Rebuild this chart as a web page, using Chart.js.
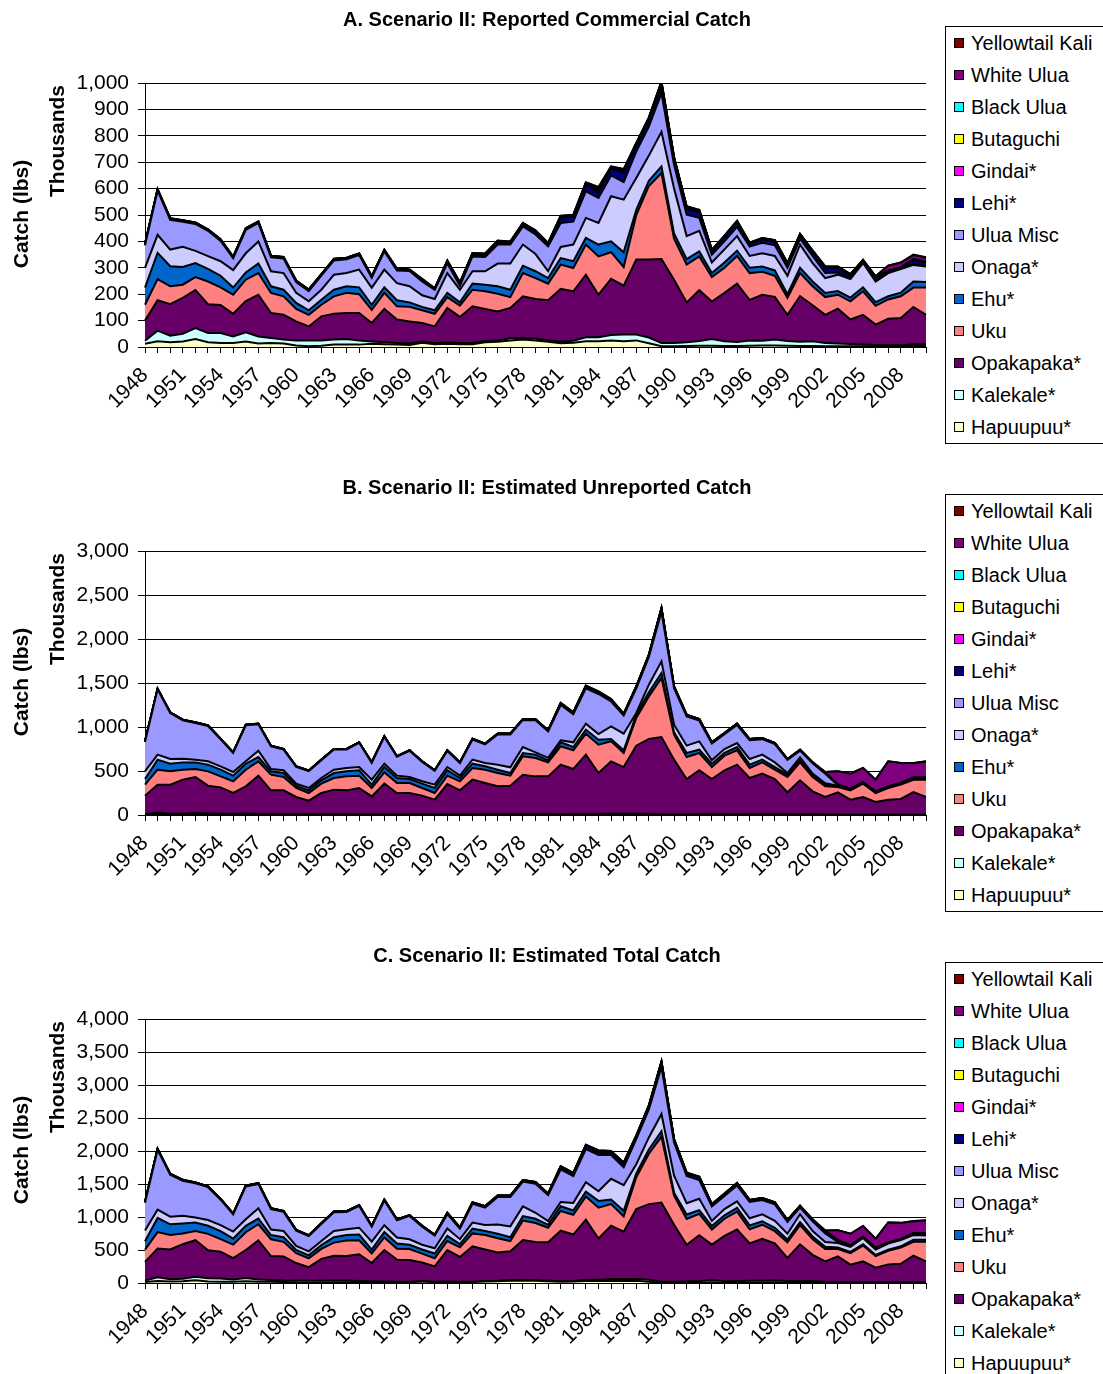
<!DOCTYPE html>
<html><head><meta charset="utf-8">
<script src="https://cdn.jsdelivr.net/npm/chart.js@4.4.1/dist/chart.umd.min.js"></script>
<style>
html,body{margin:0;padding:0;background:#fff;overflow:hidden;width:1103px;height:1374px;}
.panel{position:absolute;left:0;width:1103px;height:468px;overflow:visible;}
.panel canvas{position:absolute;left:0;top:0;}
.title{position:absolute;left:247px;width:600px;top:8px;text-align:center;font:bold 20px 'Liberation Sans',Arial,sans-serif;line-height:22px;color:#000;}
.ytitle{position:absolute;width:200px;height:22px;line-height:22px;text-align:center;font:bold 21px 'Liberation Sans',Arial,sans-serif;transform:rotate(-90deg);color:#000;}
.legend{position:absolute;left:945px;top:26px;width:170px;border:1px solid #000;background:#fff;}
.item{height:32px;display:flex;align-items:center;font:20px 'Liberation Sans',Arial,sans-serif;color:#000;white-space:nowrap;}
.sw{width:8px;height:8px;border:1px solid #000;margin-left:8px;margin-right:7px;flex:none;}
</style></head>
<body>
<div class="panel" style="top:0px"><canvas id="cA" width="940" height="468"></canvas>
<div class="title">A. Scenario II: Reported Commercial Catch</div>
<div class="ytitle" style="left:-80px;top:203px">Catch (lbs)</div>
<div class="ytitle" style="left:-44px;top:130px">Thousands</div>
<div class="legend" id="legA"></div></div>
<div class="panel" style="top:468px"><canvas id="cB" width="940" height="468"></canvas>
<div class="title">B. Scenario II: Estimated Unreported Catch</div>
<div class="ytitle" style="left:-80px;top:203px">Catch (lbs)</div>
<div class="ytitle" style="left:-44px;top:130px">Thousands</div>
<div class="legend" id="legB"></div></div>
<div class="panel" style="top:936px"><canvas id="cC" width="940" height="468"></canvas>
<div class="title">C. Scenario II: Estimated Total Catch</div>
<div class="ytitle" style="left:-80px;top:203px">Catch (lbs)</div>
<div class="ytitle" style="left:-44px;top:130px">Thousands</div>
<div class="legend" id="legC"></div></div>
<script>
// ---------- categories ----------
const years = [1948,1949,1950,1951,1952,1953,1954,1955,1956,1957,1958,1959,1960,1961,1962,1963,1964,1965,1966,1967,1968,1969,1970,1971,1972,1973,1974,1975,1976,1977,1978,1979,1980,1981,1982,1983,1984,1985,1986,1987,1988,1989,1990,1991,1992,1993,1994,1995,1996,1997,1998,1999,2000,2001,2002,2003,2004,2005,2006,2007,2008,2009,2010];
const shownYears = [1948,1951,1954,1957,1960,1963,1966,1969,1972,1975,1978,1981,1984,1987,1990,1993,1996,1999,2002,2005,2008];
// stacking order: bottom first
const seriesNames = ['Hapuupuu*','Kalekale*','Opakapaka*','Uku','Ehu*','Onaga*','Ulua Misc','Lehi*','Gindai*','Butaguchi','Black Ulua','White Ulua','Yellowtail Kali'];
const seriesColors = ['#FFFFCC','#CCFFFF','#660066','#FF8080','#0066CC','#CCCCFF','#9999FF','#000080','#FF00FF','#FFFF00','#00FFFF','#800080','#800000'];

// ---------- A. Reported commercial catch (thousand lbs) ----------
const A_hapuupuu = [12,22,18,21,30,18,15,15,21,13, 15,13,6,3,5,9,9,9,12,10, 9,8,16,10,12,10,10,18,20,25, 28,25,20,14,16,22,22,25,22,25, 14,3,3,4,5,5,4,4,5,6, 6,5,4,4,3,3,3,3,3,3, 3,4,4];
const A_kalekale = [12,40,25,29,42,35,38,25,35,27, 19,15,19,22,20,19,21,16,9,8, 6,5,5,5,5,5,5,5,5,8, 6,6,6,6,8,15,15,20,25,22, 22,12,12,14,18,25,18,15,20,18, 22,18,16,18,12,10,8,6,5,4, 4,6,6];
const A_opakapaka = [76,115,119,136,144,109,106,86,118,158, 95,94,72,53,91,98,99,104,70,126, 89,84,70,63,131,99,139,121,110,115, 158,151,151,200,187,237,161,213,185,284, 295,318,240,151,192,142,183,221,153,174, 162,99,173,136,107,132,93,113,77,100, 103,142,112];
const A_uku = [60,80,68,50,49,86,67,72,81,82, 76,70,47,44,44,66,76,71,50,61, 50,55,48,48,41,43,63,67,67,41, 88,79,63,92,88,114,145,101,71,169, 279,326,155,143,128,93,95,105,102,87, 80,64,87,72,67,53,69,89,71,73, 82,73,103];
const A_ehu = [65,100,76,67,53,48,44,27,27,36, 25,25,23,17,19,25,25,26,19,21, 23,17,13,13,16,12,23,25,28,28, 28,26,21,25,26,25,45,41,56,20, 20,25,20,21,19,15,20,20,20,20, 20,14,20,18,16,14,14,15,14,12, 14,23,21];
const A_onaga = [75,68,63,77,46,48,55,66,73,84, 57,63,38,34,38,57,50,67,64,67, 65,61,44,43,75,48,47,51,86,99, 80,65,26,42,63,76,82,171,199,120, 95,131,170,87,78,40,50,55,45,50, 55,70,88,70,56,62,70,92,78,88, 89,63,59];
const A_uluaMisc = [85,167,113,94,102,96,77,45,89,70, 53,55,41,39,53,54,52,55,38,69, 48,58,52,35,36,15,56,54,72,72, 69,74,94,91,87,101,95,79,67,100, 110,147,90,81,49,30,30,35,35,40, 40,30,22,27,19,8,3,2,2,2, 2,2,2];
const A_lehi = [3,3,3,3,3,3,3,3,3,3, 3,3,3,3,3,3,3,3,3,3, 3,3,5,2,6,7,7,7,9,6, 7,10,7,20,18,25,20,25,35,22, 22,30,20,22,22,12,15,16,10,12, 14,12,12,14,18,16,10,5,12,4, 3,16,12];
const A_gindai = [1,1,1,1,1,1,1,1,1,1, 1,1,1,1,1,1,1,1,1,1, 1,1,2,1,2,2,2,2,2,2, 2,2,2,3,3,4,8,4,6,5, 4,6,4,4,4,3,3,3,2,3, 3,3,3,3,3,3,2,2,2,1, 1,2,2];
const A_butaguchi = [1,1,1,1,1,1,1,1,1,1, 1,1,1,1,1,1,1,1,1,1, 1,1,1,1,2,2,2,2,2,2, 2,2,2,2,2,2,3,3,4,3, 6,4,3,3,3,2,2,2,2,2, 2,2,2,2,2,2,2,1,2,1, 1,2,2];
const A_blackUlua = [0,0,0,0,0,0,0,0,0,0, 0,0,0,0,0,0,0,0,0,0, 0,0,0,0,0,0,0,0,0,0, 0,0,0,0,0,0,0,0,0,0, 0,0,0,0,0,0,0,0,0,0, 0,0,0,0,0,0,0,0,0,0, 0,0,0];
const A_whiteUlua = [1,1,1,1,1,1,1,1,1,1, 1,1,1,1,1,1,1,1,1,1, 1,1,1,1,1,1,1,1,1,1, 1,1,1,1,2,2,8,1,3,2, 2,3,2,2,1,1,1,1,1,1, 1,1,1,1,2,2,2,2,2,20, 18,15,15];
const A_yellowtailKali = [0,0,0,0,0,0,0,0,0,0, 0,0,0,0,0,0,0,0,0,0, 0,0,1,0,1,1,1,1,1,1, 1,1,1,1,1,1,2,1,1,1, 1,1,1,1,1,0,1,1,0,0, 0,0,0,0,0,0,0,0,0,0, 0,2,2];

// ---------- B. Estimated unreported catch ----------
const B_hapuupuu = [5,8,6,6,10,6,5,5,7,5, 5,4,2,1,2,3,3,3,4,3, 3,3,5,3,4,3,3,6,6,8, 9,8,6,4,5,7,7,8,7,8, 5,1,1,1,2,2,2,2,2,3, 3,2,2,2,1,1,1,1,1,1, 1,1,1];
const B_kalekale = [7,17,9,9,12,12,10,7,11,7, 5,4,6,7,6,5,5,4,2,2, 2,2,2,2,2,2,2,2,2,3, 2,2,2,2,3,5,5,6,8,7, 7,4,4,5,6,8,6,5,7,6, 7,6,5,6,4,3,3,2,2,2, 2,2,2];
const B_opakapaka = [208,320,330,387,410,315,299,238,308,435, 270,272,197,155,242,280,272,300,206,351, 245,245,213,169,346,275,397,356,318,322, 447,429,431,566,515,674,465,596,530,773, 852,881,624,403,500,399,500,565,411,461, 399,250,387,261,200,254,170,202,145,171, 179,258,202];
const B_uku = [125,170,151,113,91,163,125,133,189,163, 178,152,102,87,106,132,159,140,95,129, 114,114,87,76,95,103,132,151,151,114, 209,209,159,208,212,238,322,227,160,314, 484,671,284,250,197,136,166,163,114,128, 106,174,204,163,121,60,106,151,102,133, 163,139,195];
const B_ehu = [64,114,87,83,75,76,76,64,68,49, 38,45,26,30,38,57,57,61,38,60, 56,45,49,57,61,37,49,38,38,30, 38,38,23,46,38,46,57,27,30,38, 46,57,26,46,37,38,31,38,38,31, 30,26,23,26,19,7,5,4,5,5, 5,8,8];
const B_onaga = [87,57,53,42,31,38,38,42,27,72, 27,31,23,27,26,38,38,37,57,38, 27,23,27,38,37,27,46,38,57,65, 68,26,29,22,53,68,64,144,189,19, 87,132,87,83,95,38,45,45,64,57, 53,19,34,12,15,7,5,5,5,5, 6,8,8];
const B_uluaMisc = [334,742,524,436,417,402,307,216,409,300, 258,235,191,191,203,229,210,275,190,305, 214,297,221,157,182,143,229,211,342,372, 307,366,300,402,319,402,455,282,206,281, 314,564,414,332,235,191,168,204,214,176, 208,149,77,118,110,8,2,2,2,2, 2,2,2];
const B_lehi = [4,4,4,4,4,4,4,4,4,4, 4,4,4,4,4,4,4,4,4,4, 4,4,4,4,6,6,6,6,8,8, 8,8,8,18,17,24,15,15,17,17, 21,35,17,15,14,10,10,12,10,9, 8,6,6,6,10,4,3,3,3,3, 3,5,5];
const B_gindai = [1,1,1,1,1,1,1,1,1,1, 1,1,1,1,1,1,1,1,1,1, 1,1,1,1,1,1,1,1,1,1, 1,1,1,2,2,3,4,2,2,2, 3,3,2,2,2,2,2,2,2,2, 2,2,2,2,2,1,1,1,1,1, 1,1,1];
const B_butaguchi = [1,1,1,1,1,1,1,1,1,1, 1,1,1,1,1,1,1,1,1,1, 1,1,1,1,1,1,1,1,1,1, 1,1,1,1,1,1,1,1,1,1, 1,2,1,1,1,1,1,1,1,1, 1,1,1,1,1,1,1,1,1,1, 1,1,1];
const B_blackUlua = [0,0,0,0,0,0,0,0,0,0, 0,0,0,0,0,0,0,0,0,0, 0,0,0,0,0,0,0,0,0,0, 0,0,0,0,0,0,0,0,0,0, 0,0,0,0,0,0,0,0,0,0, 0,0,0,0,0,0,0,0,0,0, 0,0,0];
const B_whiteUlua = [1,1,1,1,1,1,1,1,1,1, 1,1,1,1,1,1,1,1,1,1, 1,1,1,1,1,1,1,1,1,1, 1,1,1,1,1,1,9,9,1,1, 1,1,1,1,1,1,1,1,1,1, 1,1,1,1,6,150,173,162,135,286, 228,164,183];
const B_yellowtailKali = [0,0,0,0,0,0,0,0,0,0, 0,0,0,0,0,0,0,0,0,0, 0,0,0,0,0,0,0,0,0,0, 0,0,0,1,1,1,1,1,1,1, 1,1,1,1,1,0,0,0,0,0, 0,0,0,0,0,0,0,0,0,0, 0,2,2];

// ---------- C. Estimated total catch ----------
const C_hapuupuu = [17,30,24,27,40,24,20,20,28,18, 20,17,8,4,7,12,12,12,16,13, 12,11,21,13,16,13,13,24,26,33, 37,33,26,18,21,29,29,33,29,33, 19,4,4,5,7,7,6,6,7,9, 9,7,6,6,4,4,4,4,4,4, 4,5,5];
const C_kalekale = [19,57,34,38,54,47,48,32,46,34, 24,19,25,29,26,24,26,20,11,10, 8,7,7,7,7,7,7,7,7,11, 8,8,8,8,11,20,20,26,33,29, 29,16,16,19,24,33,24,20,27,24, 29,24,21,24,16,13,11,8,7,6, 6,8,8];
const C_opakapaka = [284,435,449,523,554,424,405,324,426,593, 365,366,269,208,333,378,371,404,276,477, 334,329,283,232,477,374,536,477,428,437, 605,580,582,766,702,911,626,809,715,1057, 1147,1199,864,554,692,541,683,786,564,635, 561,349,560,397,307,386,263,315,222,271, 282,400,314];
const C_uku = [185,250,219,163,140,249,192,205,270,245, 254,222,149,131,150,198,235,211,145,190, 164,169,135,124,136,146,195,218,218,155, 297,288,222,300,300,352,467,328,231,483, 763,997,439,393,325,229,261,268,216,215, 186,238,291,235,188,113,175,240,173,206, 245,212,298];
const C_ehu = [129,214,163,150,128,124,120,91,95,85, 63,70,49,47,57,82,82,87,57,81, 79,62,62,70,77,49,72,63,66,58, 66,64,44,71,64,71,102,68,86,58, 66,82,46,67,56,53,51,58,58,51, 50,40,43,44,35,21,19,19,19,17, 19,31,29];
const C_onaga = [162,125,116,119,77,86,93,108,100,156, 84,94,61,61,64,95,88,104,121,105, 92,84,71,81,112,75,93,89,143,164, 148,91,55,64,116,144,146,315,388,139, 182,263,257,170,173,78,95,100,109,107, 108,89,122,82,71,69,75,97,83,93, 95,71,67];
const C_uluaMisc = [419,909,637,530,519,498,384,261,498,370, 311,290,232,230,256,283,262,330,228,374, 262,355,273,192,218,158,285,265,414,444, 376,440,394,493,406,503,550,361,273,381, 424,711,504,413,284,221,198,239,249,216, 248,179,99,145,129,16,5,4,4,4, 4,4,4];
const C_lehi = [7,7,7,7,7,7,7,7,7,7, 7,7,7,7,7,7,7,7,7,7, 7,7,9,6,12,13,13,13,17,14, 15,18,15,38,35,49,35,40,52,39, 43,65,37,37,36,22,25,28,20,21, 22,18,18,20,28,20,13,8,15,7, 6,21,17];
const C_gindai = [2,2,2,2,2,2,2,2,2,2, 2,2,2,2,2,2,2,2,2,2, 2,2,3,2,3,3,3,3,3,3, 3,3,3,5,5,7,12,6,8,7, 7,9,6,6,6,5,5,5,4,5, 5,5,5,5,5,4,3,3,3,2, 2,3,3];
const C_butaguchi = [2,2,2,2,2,2,2,2,2,2, 2,2,2,2,2,2,2,2,2,2, 2,2,2,2,3,3,3,3,3,3, 3,3,3,3,3,3,4,4,5,4, 7,6,4,4,4,3,3,3,3,3, 3,3,3,3,3,3,3,2,3,2, 2,3,3];
const C_blackUlua = [0,0,0,0,0,0,0,0,0,0, 0,0,0,0,0,0,0,0,0,0, 0,0,0,0,0,0,0,0,0,0, 0,0,0,0,0,0,0,0,0,0, 0,0,0,0,0,0,0,0,0,0, 0,0,0,0,0,0,0,0,0,0, 0,0,0];
const C_whiteUlua = [2,2,2,2,2,2,2,2,2,2, 2,2,2,2,2,2,2,2,2,2, 2,2,2,2,2,2,2,2,2,2, 2,2,2,2,3,3,17,10,4,3, 3,4,3,3,2,2,2,2,2,2, 2,2,2,2,8,152,175,164,137,306, 246,179,198];
const C_yellowtailKali = [0,0,0,0,0,0,0,0,0,0, 0,0,0,0,0,0,0,0,0,0, 0,0,1,0,1,1,1,1,1,1, 1,1,1,2,2,2,3,2,2,2, 2,2,2,2,2,0,1,1,0,0, 0,0,0,0,0,0,0,0,0,0, 0,4,4];

const FONT = "'Liberation Sans', Arial, sans-serif";
Chart.defaults.font.family = FONT;
Chart.defaults.color = '#000';

function makeChart(id, series, ymax, step) {
  const datasets = series.map((d, i) => ({
    label: seriesNames[i],
    data: d,
    backgroundColor: seriesColors[i],
    borderColor: '#000',
    borderWidth: 2,
    fill: i === 0 ? 'origin' : '-1',
    pointRadius: 0,
    tension: 0
  }));
  return new Chart(document.getElementById(id), {
    type: 'line',
    data: { labels: years.map(String), datasets },
    options: {
      responsive: false, animation: false,
      layout: { padding: { top: 83, right: 14, left: 0, bottom: 0 } },
      plugins: { legend: { display: false }, tooltip: { enabled: false }, title: { display: false } },
      scales: {
        x: {
          type: 'category', offset: false,
          grid: { display: true, drawOnChartArea: false, drawTicks: true, tickLength: 6, color: '#000', offset: false },
          border: { display: true, color: '#000', width: 1 },
          ticks: {
            autoSkip: false, maxRotation: 45, minRotation: 45, padding: 10, color: '#000', font: { size: 21 },
            callback: function (v) { const l = this.getLabelForValue(v); return shownYears.includes(+l) ? l : ''; }
          },
          afterFit: s => { s.height = 121; s.paddingLeft = 0; s.paddingRight = 0; }
        },
        y: {
          stacked: true, min: 0, max: ymax,
          ticks: { stepSize: step, autoSkip: false, padding: 9, color: '#000', font: { size: 21 }, callback: v => v.toLocaleString('en-US') },
          grid: { color: '#000', tickLength: 7 },
          border: { color: '#000', width: 1 },
          afterFit: s => { s.width = 145; s.paddingTop = 0; s.paddingBottom = 0; }
        }
      }
    }
  });
}

function makeLegend(id) {
  const el = document.getElementById(id);
  for (let i = seriesNames.length - 1; i >= 0; i--) {
    const it = document.createElement('div'); it.className = 'item';
    const sw = document.createElement('span'); sw.className = 'sw'; sw.style.background = seriesColors[i];
    const tx = document.createElement('span'); tx.textContent = seriesNames[i];
    it.appendChild(sw); it.appendChild(tx); el.appendChild(it);
  }
}

makeChart('cA', [A_hapuupuu, A_kalekale, A_opakapaka, A_uku, A_ehu, A_onaga, A_uluaMisc, A_lehi, A_gindai, A_butaguchi, A_blackUlua, A_whiteUlua, A_yellowtailKali], 1000, 100);
makeChart('cB', [B_hapuupuu, B_kalekale, B_opakapaka, B_uku, B_ehu, B_onaga, B_uluaMisc, B_lehi, B_gindai, B_butaguchi, B_blackUlua, B_whiteUlua, B_yellowtailKali], 3000, 500);
makeChart('cC', [C_hapuupuu, C_kalekale, C_opakapaka, C_uku, C_ehu, C_onaga, C_uluaMisc, C_lehi, C_gindai, C_butaguchi, C_blackUlua, C_whiteUlua, C_yellowtailKali], 4000, 500);
makeLegend('legA'); makeLegend('legB'); makeLegend('legC');
</script>
</body></html>
